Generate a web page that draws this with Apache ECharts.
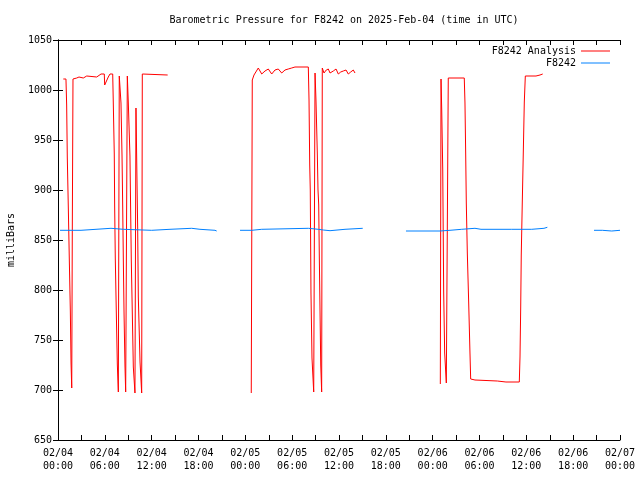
<!DOCTYPE html>
<html>
<head>
<meta charset="utf-8">
<script src="https://cdn.jsdelivr.net/npm/echarts@6/dist/echarts.min.js"></script>
<style>html,body{margin:0;padding:0;background:#fff}#c{width:640px;height:480px}</style>
</head>
<body>
<div id="c"></div>
<script>
// hours after 2025-02-04 00:00 UTC; null = gap between segments
var analysisHours = [
0.68,1.02,1.11,1.19,1.32,1.45,1.58,1.67,1.76,1.83,1.92,2.40,2.69,3.24,3.68,3.88,4.96,5.16,5.51,5.93,5.98,6.44,6.66,7.01,
7.08,7.21,7.26,7.34,7.47,7.60,7.73,7.85,8.07,8.20,8.29,8.37,8.46,8.58,8.67,8.88,9.01,9.22,9.39,9.52,9.65,9.86,9.99,
10.21,10.29,10.51,10.72,10.80,11.02,14.05,null,
24.76,24.89,25.11,25.66,26.10,26.52,26.94,27.38,27.80,28.22,28.66,29.08,29.50,29.94,30.36,32.07,32.16,32.25,32.32,32.41,
32.54,32.76,32.93,33.05,33.22,33.31,33.40,33.48,33.57,33.66,33.78,33.86,34.08,34.37,34.63,34.85,35.27,35.62,35.91,36.22,
36.55,36.90,37.19,37.50,37.83,38.05,null,
48.98,49.07,49.16,49.29,49.41,49.54,49.75,49.87,50.00,52.05,52.14,52.23,52.31,52.44,52.62,52.78,52.87,53.42,56.28,56.41,
57.39,59.10,59.19,59.28,59.35,59.48,59.61,59.74,59.87,61.24,61.33,61.75,61.79,62.10
];
var analysisMbar = [
1011,1011,985,933,883,830,779,727,702,857,1011,1012,1013,1012,1014,1013,1013,1015,1016,1016,1005,1013,1016,1016,
989,936,884,832,778,726,698,1014,987,935,883,830,777,724,698,1014,987,934,830,777,723,697,982,
860,793,728,697,1016,1015,1015,null,
697,1010,1015,1022,1016,1019,1021,1016,1020,1021,1017,1020,1021,1022,1023,1023,990,925,900,797,
732,698,1017,990,937,900,885,832,778,725,698,1022,1017,1020,1021,1017,1019,1021,1016,1018,
1019,1020,1016,1018,1020,1017,null,
706,1011,980,920,798,737,707,707,1012,1012,987,937,887,837,786,737,711,710,709,708,
708,708,733,783,835,887,937,988,1014,1014,1015,1015,1016,1016
];
var obsHours = [
0.26,2.95,6.79,8.37,12.00,14.35,17.13,18.19,20.11,20.33,null,
23.32,24.82,26.10,32.07,33.35,33.99,34.85,36.77,39.04,null,
44.58,48.94,50.22,51.72,53.42,54.19,54.38,58.13,58.33,60.69,62.26,62.69,null,
68.67,69.73,70.94,72.00
];
var obsMbar = [
859.7,861.7,860.7,859.7,860.7,861.7,860.7,859.7,859.0,859.0,null,
859.7,860.7,861.7,860.7,860.0,859.3,860.7,861.7,861.7,null,
859.0,859.7,860.7,861.7,860.7,861.7,860.7,859.7,860.7,861.7,862.7,862.7,null,
859.7,859.0,859.7,859.7
];
var xTickHours = [0,6,12,18,24,30,36,42,48,54,60,66,72];
var yTicks = [650,700,750,800,850,900,950,1000,1050];

// split the arrays at null into segments of [x, y] pairs
function segments(xs, ys) {
  var out = [], cur = [];
  for (var i = 0; i < xs.length; i++) {
    if (xs[i] === null || ys[i] === null) { if (cur.length) out.push(cur); cur = []; }
    else cur.push([xs[i], ys[i]]);
  }
  if (cur.length) out.push(cur);
  return out;
}
function xLabel(h) {
  if (xTickHours.indexOf(h) < 0) return '';
  var day = 4 + Math.floor(h / 24);
  var hh = h % 24;
  return '02/0' + day + '\n' + (hh < 10 ? '0' : '') + hh + ':00';
}
var FONT = 'DejaVu Sans Mono';
var RED = '#ff0000', BLUE = '#0080ff';
var axisBase = {
  type: 'value', min: 0, max: 72, interval: 3,
  axisLine: { show: true, onZero: false, lineStyle: { color: '#000', width: 1 } },
  axisTick: { show: true, inside: true, length: 5, lineStyle: { color: '#000' } },
  splitLine: { show: false }
};
var series = [];
segments(analysisHours, analysisMbar).forEach(function (seg) {
  series.push({ name: 'F8242 Analysis', type: 'line', data: seg, showSymbol: false, symbol: 'none',
    lineStyle: { color: RED, width: 1 }, itemStyle: { color: RED } });
});
segments(obsHours, obsMbar).forEach(function (seg) {
  series.push({ name: 'F8242', type: 'line', step: 'end', data: seg, showSymbol: false, symbol: 'none',
    lineStyle: { color: BLUE, width: 1 }, itemStyle: { color: BLUE } });
});
var chart = echarts.init(document.getElementById('c'), null, { renderer: 'canvas' });
chart.setOption({
  animation: false,
  backgroundColor: '#fff',
  textStyle: { fontFamily: FONT },
  title: {
    text: 'Barometric Pressure for F8242 on 2025-Feb-04 (time in UTC)',
    left: 339, top: 10, textAlign: 'center',
    textStyle: { fontFamily: FONT, fontSize: 10, fontWeight: 'normal', color: '#000' }
  },
  legend: {
    data: ['F8242 Analysis', 'F8242'],
    orient: 'vertical', right: 30, top: 46, align: 'right', padding: 0,
    itemWidth: 29, itemHeight: 1, itemGap: 2, icon: 'rect',
    textStyle: { fontFamily: FONT, fontSize: 10, color: '#000' }
  },
  grid: { left: 58, right: 20, top: 40, bottom: 40, containLabel: false, outerBoundsMode: 'none' },
  xAxis: [
    Object.assign({}, axisBase, {
      position: 'bottom',
      axisLabel: { show: true, formatter: xLabel, fontFamily: FONT, fontSize: 10, color: '#000', margin: 7, lineHeight: 13, showMinLabel: true, showMaxLabel: true }
    }),
    Object.assign({}, axisBase, { position: 'top', axisLabel: { show: false } })
  ],
  yAxis: [
    {
      type: 'value', min: 650, max: 1050, interval: 50, position: 'left',
      name: 'milliBars', nameLocation: 'middle', nameGap: 42, nameRotate: 90,
      nameTextStyle: { fontFamily: FONT, fontSize: 10, color: '#000' },
      axisLine: { show: true, lineStyle: { color: '#000' } },
      axisTick: { show: true, inside: true, length: 5, lineStyle: { color: '#000' } },
      axisLabel: { fontFamily: FONT, fontSize: 10, color: '#000', margin: 6,
        formatter: function (v) { return yTicks.indexOf(v) >= 0 ? String(v) : ''; } },
      splitLine: { show: false }
    },
    {
      type: 'value', min: 650, max: 1050, interval: 50, position: 'right',
      axisLine: { show: true, lineStyle: { color: '#000' } },
      axisTick: { show: true, inside: true, length: 5, lineStyle: { color: '#000' } },
      axisLabel: { show: false },
      splitLine: { show: false }
    }
  ],
  series: series
});
</script>
</body>
</html>
